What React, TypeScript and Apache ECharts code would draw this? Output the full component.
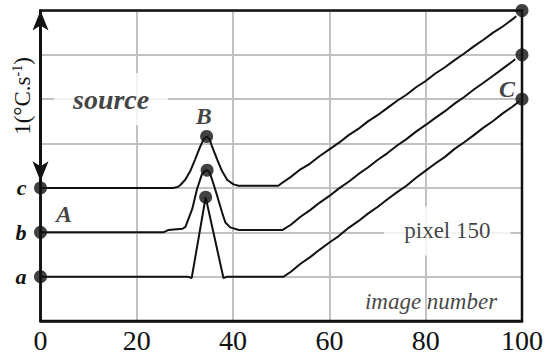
import React, { useEffect, useRef } from 'react';
import * as echarts from 'echarts';

// Axis settings
const xTicks = [0, 20, 40, 60, 80, 100];
const yLevelLabels = ['', 'a', 'b', 'c', '', '', '', ''];

// Temperature-rate traces for pixel 150 (offset levels a, b, c)
const traceA: [number, number][] = [
  [0, 1], [30.5, 1.0], [31.4, 0.97], [34.3, 2.79], [38.0, 0.97], [38.8, 1.0], [50.5, 1.0],
  [52, 1.11], [54, 1.29], [56, 1.44], [58, 1.61], [60, 1.77], [62, 1.92], [64, 2.1],
  [66, 2.25], [68, 2.42], [70, 2.57], [72, 2.74], [74, 2.9], [76, 3.05], [78, 3.23],
  [80, 3.39], [82, 3.55], [84, 3.7], [86, 3.88], [88, 4.03], [90, 4.19], [92, 4.36],
  [94, 4.51], [96, 4.68], [98, 4.83], [99.5, 4.96],
];
const traceB: [number, number][] = [
  [0, 2], [25.5, 2.0], [26.5, 2.05], [29.5, 2.08], [30.1, 2.12], [31.5, 2.52], [32.5, 2.97],
  [33.5, 3.3], [34.1, 3.38], [34.6, 3.4], [35.1, 3.35], [35.6, 3.2], [36.7, 2.82],
  [37.7, 2.45], [38.4, 2.22], [39.4, 2.11], [41.2, 2.05], [50.2, 2.05],
  [52, 2.17], [54, 2.35], [56, 2.5], [58, 2.67], [60, 2.82], [62, 2.99], [64, 3.14],
  [66, 3.31], [68, 3.46], [70, 3.63], [72, 3.78], [74, 3.95], [76, 4.1], [78, 4.27],
  [80, 4.42], [82, 4.58], [84, 4.73], [86, 4.9], [88, 5.05], [90, 5.22], [92, 5.37],
  [94, 5.53], [96, 5.69], [98, 5.85], [98.6, 5.9],
];
const traceC: [number, number][] = [
  [0, 3], [27.5, 3.0], [28.5, 3.02], [29.0, 3.06], [30.1, 3.19], [31.1, 3.38], [32.1, 3.64],
  [33.2, 3.94], [33.9, 4.1], [34.5, 4.16], [35.1, 4.1], [35.6, 3.94], [36.7, 3.64],
  [37.7, 3.38], [38.8, 3.18], [40.1, 3.08], [41.1, 3.05], [49.4, 3.05],
  [50, 3.1], [52, 3.25], [54, 3.42], [56, 3.55], [58, 3.72], [60, 3.87], [62, 4.02],
  [64, 4.19], [66, 4.33], [68, 4.5], [70, 4.64], [72, 4.8], [74, 4.96], [76, 5.1],
  [78, 5.27], [80, 5.41], [82, 5.58], [84, 5.72], [86, 5.88], [88, 6.03], [90, 6.19],
  [92, 6.34], [94, 6.5], [96, 6.64], [98, 6.8], [98.8, 6.87],
];

// Marked points: starts, peaks (B) and ends (C)
const startDots: [number, number][] = [[0, 1], [0, 2], [0, 3]];
const peakDots: [number, number][] = [[34.3, 2.79], [34.6, 3.4], [34.5, 4.16]];
const endDots: [number, number][] = [[100, 5], [100, 6], [100, 7]];

// Scale bar: 1 °C/s
const scaleBarFrom: [number, number] = [0, 7];
const scaleBarTo: [number, number] = [0, 3.15];

// Annotations
const noteSource: [number, number] = [14.66, 5.0];
const notePixel: [number, number] = [84.5, 2.03];
const noteImage: [number, number] = [81.1, 0.45];
const noteA: [number, number] = [4.9, 2.42];
const noteB: [number, number] = [33.9, 4.63];
const noteC: [number, number] = [96.9, 5.22];

const SERIF = 'Times New Roman, Liberation Serif, serif';
const INK = '#111111';
const GRID = '#c2c2c2';

function traceSeries(data: [number, number][]) {
  return {
    type: 'line',
    data,
    showSymbol: false,
    symbol: 'none',
    smooth: false,
    z: 3,
    silent: true,
    lineStyle: { color: INK, width: 2 },
  };
}

function dotSeries(data: [number, number][]) {
  return {
    type: 'scatter',
    data,
    symbol: 'circle',
    symbolSize: 13,
    z: 4,
    silent: true,
    itemStyle: { color: INK },
  };
}

function noteItem(value: [number, number], text: string, style: Record<string, unknown>) {
  return {
    value,
    label: { show: true, position: 'inside', formatter: text, fontFamily: SERIF, color: INK, ...style },
  };
}

export default function App() {
  const ref = useRef<HTMLDivElement>(null);

  useEffect(() => {
    if (!ref.current) return;
    const chart = echarts.init(ref.current, undefined, { renderer: 'svg' });
    chart.setOption({
      animation: false,
      backgroundColor: '#fff',
      textStyle: { fontFamily: SERIF },
      grid: {
        left: 40.5,
        right: 24,
        top: 10.5,
        bottom: 33,
        show: true,
        borderColor: INK,
        borderWidth: 2.5,
        backgroundColor: 'transparent',
        z: 5,
      },
      xAxis: {
        type: 'value',
        min: 0,
        max: 100,
        interval: 20,
        axisLine: { show: true, onZero: false, lineStyle: { color: INK, width: 2.5 } },
        axisTick: { show: false },
        splitLine: { show: true, lineStyle: { color: GRID, width: 2 } },
        axisLabel: {
          fontFamily: SERIF,
          fontSize: 28,
          color: INK,
          margin: 5,
          formatter: (v: number) => (xTicks.includes(v) ? String(v) : ''),
        },
      },
      yAxis: {
        type: 'value',
        min: 0,
        max: 7,
        interval: 1,
        axisLine: { show: true, lineStyle: { color: INK, width: 2.5 } },
        axisTick: { show: false },
        splitLine: { show: true, lineStyle: { color: GRID, width: 2 } },
        axisLabel: {
          fontFamily: SERIF,
          fontSize: 22,
          fontWeight: 'bold',
          fontStyle: 'italic',
          color: INK,
          margin: 14,
          formatter: (v: number) => yLevelLabels[Math.round(v)] ?? '',
        },
      },
      graphic: [
        {
          type: 'text',
          x: 22,
          y: 96,
          rotation: Math.PI / 2,
          silent: true,
          style: {
            text: '{m|1(°C.s}{s|-1}{m|)}',
            align: 'center',
            verticalAlign: 'middle',
            rich: {
              m: { fontFamily: SERIF, fontSize: 23, fill: INK, color: INK },
              s: { fontFamily: SERIF, fontSize: 14, fill: INK, color: INK, verticalAlign: 'top', padding: [0, 0, 9, 0] },
            },
          },
        },
      ],
      series: [
        {
          type: 'scatter',
          z: 1,
          silent: true,
          symbolSize: 1,
          itemStyle: { color: 'rgba(0,0,0,0)' },
          data: [
            noteItem(noteSource, 'source', {
              fontSize: 28, fontWeight: 'bold', fontStyle: 'italic',
              backgroundColor: '#fff', padding: [12, 19],
            }),
            noteItem(notePixel, 'pixel 150', {
              fontSize: 23, backgroundColor: '#fff', padding: [13, 20],
            }),
            noteItem(noteImage, 'image number', { fontSize: 23, fontStyle: 'italic' }),
            noteItem(noteA, 'A', { fontSize: 24, fontWeight: 'bold', fontStyle: 'italic' }),
            noteItem(noteB, 'B', { fontSize: 24, fontWeight: 'bold', fontStyle: 'italic' }),
            noteItem(noteC, 'C', { fontSize: 24, fontWeight: 'bold', fontStyle: 'italic' }),
          ],
        },
        traceSeries(traceA),
        traceSeries(traceB),
        {
          ...traceSeries(traceC),
          markLine: {
            silent: true,
            symbol: ['arrow', 'arrow'],
            symbolSize: [12, 20],
            label: { show: false },
            lineStyle: { color: INK, width: 2.5, type: 'solid' },
            data: [[{ coord: scaleBarFrom }, { coord: scaleBarTo }]],
          },
        },
        dotSeries(startDots),
        dotSeries(peakDots),
        dotSeries(endDots),
      ],
    });
    return () => chart.dispose();
  }, []);

  return (
    <div
      ref={ref}
      style={{ position: 'fixed', left: 0, top: 0, width: 546, height: 354, background: '#fff' }}
    />
  );
}
